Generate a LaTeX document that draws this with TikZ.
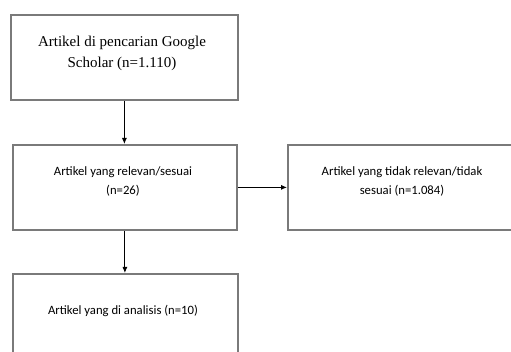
\documentclass[tikz,border=0pt]{standalone}
\usepackage{fontspec}
\setmainfont{Liberation Serif}
\newfontfamily\calfont{Carlito}
\usetikzlibrary{arrows.meta}
\definecolor{boxgray}{HTML}{7A7A7A}
\begin{document}
\begin{tikzpicture}[x=1pt,y=-1pt,
  box/.style={draw=boxgray, line width=1.8pt, rectangle, inner sep=0pt, anchor=north west},
  serif/.style={align=center, font=\fontsize{15}{21}\selectfont, inner sep=0pt},
  sans/.style={align=center, font=\calfont\fontsize{12.7}{19}\selectfont, inner sep=0pt},
  arr/.style={draw=black, line width=0.9pt, -{Latex[length=6pt,width=5pt]}}]
\useasboundingbox (0,0) rectangle (511,352);
\fill[white] (0,0) rectangle (511,352);
\clip (0,0) rectangle (511,352);
\node[box, minimum width=227pt, minimum height=85pt] (b1) at (10,14) {};
\node[box, minimum width=224pt, minimum height=85pt] (b2) at (12,144) {};
\node[box, minimum width=230pt, minimum height=85pt] (b3) at (287,144) {};
\node[box, minimum width=225pt, minimum height=100pt] (b4) at (12,273) {};
\node[serif] (t1) at (122,53.5) {Artikel di pencarian Google\\Scholar (n=1.110)};
\node[sans] (t2) at (123,181.5) {Artikel yang relevan/sesuai\\(n=26)};
\node[sans] (t3) at (402,181.5) {Artikel yang tidak relevan/tidak\\sesuai (n=1.084)};
\node[sans] (t4) at (123,311) {Artikel yang di analisis (n=10)};
\draw[arr] (b1.south) -- (b1.south |- b2.north);
\draw[arr] (b2.east) -- (b2.east -| b3.west);
\draw[arr] (b2.south) -- (b2.south |- b4.north);
\end{tikzpicture}
\end{document}
